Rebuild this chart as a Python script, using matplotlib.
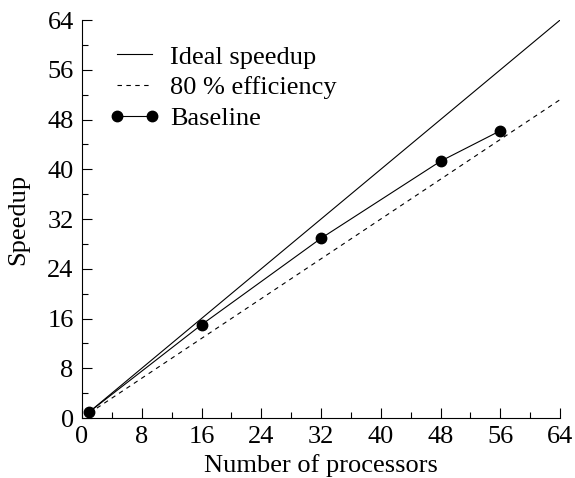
import numpy as np
from matplotlib import pyplot as plt
from matplotlib.ticker import MultipleLocator

plt.rcParams['font.family'] = ['Liberation Serif', 'DejaVu Serif']
plt.rcParams['mathtext.fontset'] = 'stix'

# data
procs = [1, 16, 32, 48, 56]
baseline = [1.0, 15.0, 28.9, 41.3, 46.2]
ideal_x = [1, 64]
ideal_y = [1, 64]
eff_x = [1, 64]
eff_y = [0.8, 51.2]

fs = 19

fig = plt.figure(figsize=(5.75, 4.78), dpi=100)
ax = fig.add_axes([0.1426, 0.1255, 0.8314, 0.8325])

ax.plot(ideal_x, ideal_y, color='black', lw=0.8, label='Ideal speedup')
ax.plot(eff_x, eff_y, color='black', lw=0.8, ls=(0, (4, 4)), label='80 % efficiency')
ax.plot(procs, baseline, color='black', lw=0.8, marker='o', ms=7.5, label='Baseline')

ax.set_xlim(0, 64)
ax.set_ylim(0, 64)
ax.xaxis.set_major_locator(MultipleLocator(8))
ax.yaxis.set_major_locator(MultipleLocator(8))
ax.xaxis.set_minor_locator(MultipleLocator(4))
ax.yaxis.set_minor_locator(MultipleLocator(4))
ax.tick_params(which='both', direction='in', labelsize=fs, width=0.8)
ax.tick_params(which='major', length=7, pad=6)
ax.tick_params(which='minor', length=4)

for s in ['top', 'right']:
    ax.spines[s].set_visible(False)
for s in ['left', 'bottom']:
    ax.spines[s].set_linewidth(0.8)

ax.set_xlabel('Number of processors', fontsize=fs, labelpad=4)
ax.set_ylabel('Speedup', fontsize=fs, labelpad=13)

ax.legend(loc='upper left', bbox_to_anchor=(0.0565, 0.937), frameon=False,
          fontsize=fs, handlelength=1.92, handletextpad=0.39, labelspacing=0.28,
          borderpad=0, borderaxespad=0, numpoints=2)

fig.savefig('out.png', dpi=100)
